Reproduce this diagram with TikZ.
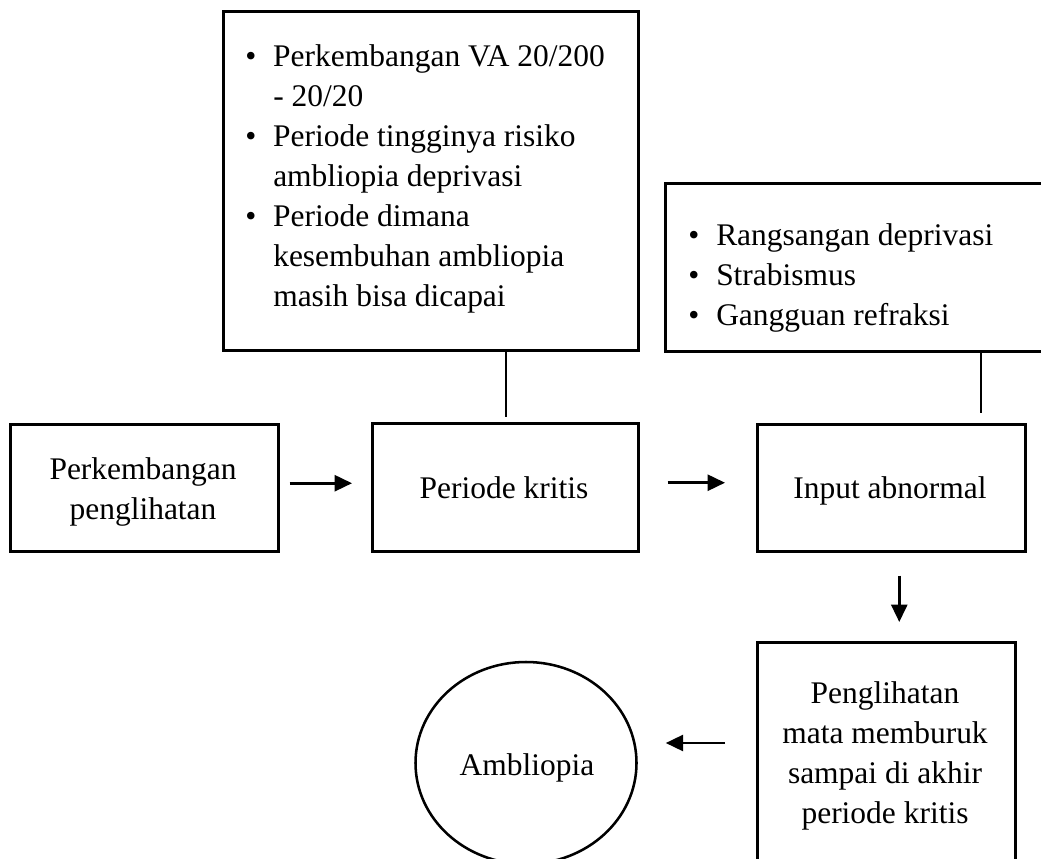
\documentclass[tikz,border=0pt]{standalone}
\usepackage{fontspec}
\setmainfont{Liberation Serif}
\usetikzlibrary{arrows.meta,shapes.geometric}
\begin{document}
\begin{tikzpicture}[x=0.75pt,y=-0.75pt,
  box/.style={draw, line width=1.9pt, rectangle, inner sep=0pt, anchor=north west},
  oval/.style={draw, line width=1.9pt, ellipse, inner sep=0pt},
  txt/.style={inner sep=0pt, font=\fontsize{23.6pt}{30pt}\selectfont},
  conn/.style={line width=1.9pt},
  arr/.style={line width=1.9pt, -{Triangle[length=13pt,width=12pt]}},
]
\useasboundingbox (0,0) rectangle (1041,859);
\clip (0,0) rectangle (1041,859);
\newcommand{\bl}{\makebox[21pt][l]{\textbullet}}

% boxes
\node[box, minimum width=311.25pt, minimum height=254.25pt] (topbox) at (222,10) {};
\node[box, minimum width=300pt, minimum height=126pt] (rightbox) at (664,182) {};
\node[box, minimum width=201pt, minimum height=95.25pt] (leftbox) at (9,423) {};
\node[box, minimum width=199.5pt, minimum height=96pt] (kritis) at (371,422) {};
\node[box, minimum width=201pt, minimum height=95.25pt] (input) at (756,423) {};
\node[box, minimum width=193.5pt, minimum height=225pt] (bottombox) at (756,641) {};
\node[oval, minimum width=165.75pt, minimum height=151.5pt] (amb) at (526,763) {};

% texts
\node[txt, anchor=base west] (toptext) at (245,67) {\begin{tabular}[t]{@{}l@{}}
\bl Perkembangan VA 20/200\\
\hspace{21pt}- 20/20\\
\bl Periode tingginya risiko\\
\hspace{21pt}ambliopia deprivasi\\
\bl Periode dimana\\
\hspace{21pt}kesembuhan ambliopia\\
\hspace{21pt}masih bisa dicapai
\end{tabular}};
\node[txt, anchor=base west] (righttext) at (688,245) {\begin{tabular}[t]{@{}l@{}}
\bl Rangsangan deprivasi\\
\bl Strabismus\\
\bl Gangguan refraksi
\end{tabular}};
\node[txt, anchor=base] (lefttext) at (143,479) {\begin{tabular}[t]{@{}c@{}}
Perkembangan\\ penglihatan
\end{tabular}};
\node[txt, anchor=base] (kritistext) at (504,498) {Periode kritis};
\node[txt, anchor=base] (inputtext) at (890,498) {Input abnormal};
\node[txt, anchor=base] (bottomtext) at (885,703) {\begin{tabular}[t]{@{}c@{}}
Penglihatan\\ mata memburuk\\ sampai di akhir\\ periode kritis
\end{tabular}};
\node[txt, anchor=base] (ambtext) at (527,775) {Ambliopia};

% connectors
\coordinate (k1) at (506,417);
\coordinate (k2) at (981,413);
\draw[conn] (topbox.south -| k1) -- (k1);
\draw[conn] (rightbox.south -| k2) -- (k2);
\draw[arr, shorten <=7.5pt, shorten >=14.25pt] ([yshift=3.4pt]leftbox.east) -- ([yshift=3.4pt]leftbox.east -| kritis.west);
\draw[arr, shorten <=21pt, shorten >=23.25pt] ([yshift=3.4pt]kritis.east) -- ([yshift=3.4pt]kritis.east -| input.west);
\draw[arr, shorten <=17.25pt, shorten >=14.25pt] ([xshift=6pt]input.south) -- ([xshift=6pt]input.south |- bottombox.north);
\coordinate (la) at (0,743);
\draw[arr, shorten <=23.25pt, shorten >=21pt] (bottombox.west |- la) -- (amb.east |- la);
\end{tikzpicture}
\end{document}
